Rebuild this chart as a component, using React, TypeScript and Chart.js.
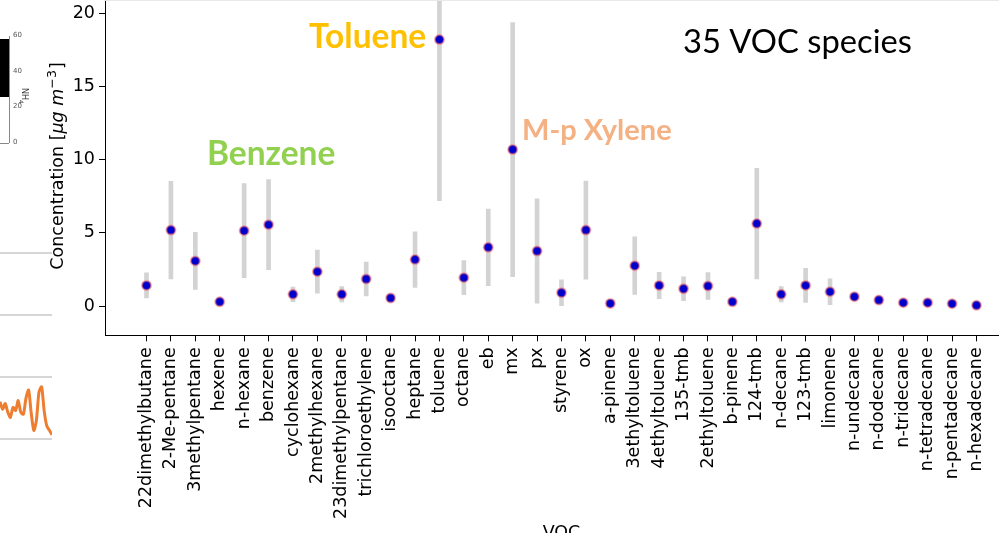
import React, { useEffect, useRef } from "react";
import { Chart, registerables } from "chart.js";

Chart.register(...registerables);

// ---- data ----
const VOCS = [
  "22dimethylbutane", "2-Me-pentane", "3methylpentane", "hexene", "n-hexane", "benzene",
  "cyclohexane", "2methylhexane", "23dimethylpentane", "trichloroethylene", "isooctane", "heptane",
  "toluene", "octane", "eb", "mx", "px", "styrene", "ox", "a-pinene", "3ethyltoluene",
  "4ethyltoluene", "135-tmb", "2ethyltoluene", "b-pinene", "124-tmb", "n-decane", "123-tmb",
  "limonene", "n-undecane", "n-dodecane", "n-tridecane", "n-tetradecane", "n-pentadecane",
  "n-hexadecane",
];
const MEANS = [
  1.41, 5.19, 3.08, 0.29, 5.15, 5.56, 0.8, 2.35, 0.8, 1.85, 0.55, 3.17,
  18.2, 1.94, 4.01, 10.69, 3.76, 0.91, 5.19, 0.18, 2.76, 1.41, 1.18, 1.37,
  0.29, 5.63, 0.8, 1.41, 0.98, 0.64, 0.41, 0.23, 0.23, 0.16, 0.05,
];
const STDS = [
  0.86, 3.33, 1.95, 0.2, 3.21, 3.07, 0.5, 1.47, 0.52, 1.16, 0.2, 1.9,
  11.0, 1.17, 2.62, 8.68, 3.56, 0.88, 3.35, 0.15, 1.96, 0.9, 0.82, 0.92,
  0.2, 3.78, 0.52, 1.17, 0.88, 0.25, 0.2, 0.15, 0.15, 0.12, 0.1,
];
const Y_TICKS = [0, 5, 10, 15, 20];
const X_TITLE = "VOC";
const ANNOTATIONS = ["Toluene", "Benzene", "M-p Xylene", "35 VOC species"];

// sliver of a neighbouring figure at the left edge
const SIDE_SERIES = [
  0.6, 0.48, 0.57, 0.43, 0.35, 0.51, 0.46, 0.62, 0.43, 0.4, 0.66,
  0.79, 0.42, 0.14, 0.3, 0.76, 0.84, 0.45, 0.21, 0.14, 0.07,
];
const SIDE_GRID = [0, 1, 2, 3];
const SIDE_TICKS = ["60", "40", "20", "0"];

// ---- layout constants ----
const CW = 1060;
const CH = 640;
const OFF_Y = 60; // canvas is shifted up by this much
const TICK_FONT = { family: "DejaVu Sans", size: 17.5 };

const overlayPlugin = {
  id: "overlay",
  afterDraw(chart: any) {
    const ctx = chart.ctx as CanvasRenderingContext2D;
    ctx.save();
    // y-axis title with math part
    const fs = 17.5;
    const parts = [
      { t: "Concentration [", f: `${fs}px "DejaVu Sans"`, dy: 0 },
      { t: "\u03bcg m", f: `italic ${fs}px "DejaVu Sans"`, dy: 0 },
      { t: "\u22123", f: `${fs * 0.72}px "DejaVu Sans"`, dy: -7 },
      { t: "]", f: `${fs}px "DejaVu Sans"`, dy: 0 },
    ];
    let total = 0;
    for (const p of parts) {
      ctx.font = p.f;
      total += ctx.measureText(p.t).width + (p.dy ? 1 : 0);
    }
    ctx.translate(57, 166 + OFF_Y);
    ctx.rotate(-Math.PI / 2);
    ctx.fillStyle = "#000";
    ctx.textBaseline = "alphabetic";
    ctx.textAlign = "left";
    let px = -total / 2;
    for (const p of parts) {
      ctx.font = p.f;
      ctx.fillText(p.t, px, 6 + p.dy);
      px += ctx.measureText(p.t).width + (p.dy ? 1 : 0);
    }
    ctx.restore();

    ctx.save();
    // x-axis title
    const area = chart.chartArea;
    ctx.font = `${fs}px "DejaVu Sans"`;
    ctx.fillStyle = "#000";
    ctx.textAlign = "center";
    ctx.textBaseline = "alphabetic";
    ctx.fillText(X_TITLE, (area.left + area.right) / 2, 538 + OFF_Y);

    // slide annotations
    const styles = [
      { c: "#FFC000", w: "bold", s: 33.5, x: 309, y: 47.7, mw: 121 },
      { c: "#92D050", w: "bold", s: 33.5, x: 207, y: 165, mw: 130 },
      { c: "#F4B183", w: "bold", s: 29, x: 522, y: 140, mw: 150 },
      { c: "#000000", w: "normal", s: 33.5, x: 683, y: 53.3, mw: 229 },
    ];
    ctx.textAlign = "left";
    ANNOTATIONS.forEach((t, i) => {
      const st = styles[i];
      ctx.font = `${st.w} ${st.s}px Lato`;
      ctx.fillStyle = st.c;
      ctx.fillText(t, st.x, st.y + OFF_Y, st.mw);
    });
    ctx.restore();
  },
};

function MainChart() {
  const ref = useRef<HTMLCanvasElement>(null);
  useEffect(() => {
    if (!ref.current) return;
    const chart = new Chart(ref.current, {
      type: "bar",
      data: {
        datasets: [
          {
            type: "scatter",
            data: MEANS.map((m, i) => ({ x: i, y: m })),
            backgroundColor: "#0000cd",
            borderColor: "rgba(240,110,110,0.55)",
            borderWidth: 2,
            pointRadius: 4.5,
            order: 1,
          } as any,
          {
            type: "bar",
            data: MEANS.map((m, i) => ({ x: i, y: [m - STDS[i], m + STDS[i]] })),
            backgroundColor: "#d3d3d3",
            barThickness: 4,
            order: 2,
          } as any,
        ],
      },
      options: {
        animation: false,
        responsive: false,
        maintainAspectRatio: false,
        layout: { padding: { top: 44, right: 42, left: 0, bottom: 0 } },
        plugins: { legend: { display: false }, tooltip: { enabled: false } },
        scales: {
          x: {
            type: "linear",
            min: -1.7,
            max: 35.7,
            offset: false,
            afterBuildTicks: (s: any) => {
              s.ticks = VOCS.map((_, i) => ({ value: i }));
            },
            afterFit: (s: any) => {
              s.height = CH - 395.3;
            },
            ticks: {
              autoSkip: false,
              minRotation: 90,
              maxRotation: 90,
              padding: 6,
              color: "#000",
              font: TICK_FONT,
              callback: (v: any) => VOCS[v] ?? "",
            },
            grid: {
              display: true,
              offset: false,
              drawOnChartArea: false,
              drawTicks: true,
              tickLength: 6,
              tickColor: "#000",
              tickWidth: 1,
            },
            border: { display: true, color: "#000", width: 1 },
          },
          y: {
            type: "linear",
            min: -2,
            max: 22,
            afterBuildTicks: (s: any) => {
              s.ticks = Y_TICKS.map((v) => ({ value: v }));
            },
            afterFit: (s: any) => {
              s.width = 105;
            },
            ticks: {
              padding: 4,
              color: "#000",
              font: TICK_FONT,
              callback: (v: any) => String(v),
            },
            grid: {
              display: true,
              offset: false,
              drawOnChartArea: false,
              drawTicks: true,
              tickLength: 6,
              tickColor: "#000",
              tickWidth: 1,
            },
            border: { display: true, color: "#000", width: 1 },
          },
        },
      } as any,
      plugins: [overlayPlugin],
    });
    return () => chart.destroy();
  }, []);
  return (
    <canvas
      ref={ref}
      width={CW}
      height={CH}
      style={{ position: "absolute", left: 0, top: -OFF_Y, width: CW, height: CH }}
    />
  );
}

function SideChart() {
  const ref = useRef<HTMLCanvasElement>(null);
  useEffect(() => {
    if (!ref.current) return;
    const chart = new Chart(ref.current, {
      type: "line",
      data: {
        labels: SIDE_SERIES.map((_, i) => i),
        datasets: [
          {
            data: SIDE_SERIES,
            borderColor: "#ED7D31",
            borderWidth: 3,
            pointRadius: 0,
            tension: 0.25,
          },
        ],
      },
      options: {
        animation: false,
        responsive: false,
        layout: { padding: { top: 1, bottom: 1, left: 0, right: 0 } },
        plugins: { legend: { display: false }, tooltip: { enabled: false } },
        scales: {
          x: { display: false, offset: false },
          y: {
            min: 0,
            max: 3,
            afterBuildTicks: (s: any) => {
              s.ticks = SIDE_GRID.map((v) => ({ value: v }));
            },
            afterFit: (s: any) => {
              s.width = 0;
            },
            ticks: { display: false },
            grid: { color: "#d6d6d6", lineWidth: 2, drawTicks: false },
            border: { display: false },
          },
        },
      } as any,
    });
    return () => chart.destroy();
  }, []);
  return (
    <canvas
      ref={ref}
      width={52}
      height={188}
      style={{ position: "absolute", left: 0, top: 252, width: 52, height: 188 }}
    />
  );
}

export default function App() {
  useEffect(() => {
    document.body.style.margin = "0";
    document.body.style.overflow = "hidden";
  }, []);
  return (
    <div
      style={{
        position: "fixed",
        left: 0,
        top: 0,
        width: 999,
        height: 533,
        overflow: "hidden",
        background: "#fff",
      }}
    >
      <MainChart />
      <SideChart />
      <div style={{ position: "absolute", left: 104, top: 0, width: 895, height: 1, background: "#e8e8e8" }} />
      <div style={{ position: "absolute", left: 0, top: 39, width: 10, height: 58, background: "#000" }} />
      <div style={{ position: "absolute", left: 9, top: 36, width: 1, height: 107, background: "#888" }} />
      <div style={{ position: "absolute", left: 0, top: 143, width: 9, height: 1, background: "#888" }} />
      {SIDE_TICKS.map((t, i) => (
        <div
          key={t}
          style={{
            position: "absolute",
            left: 13,
            top: 31 + i * 35.5,
            font: "7px 'DejaVu Sans'",
            color: "#555",
          }}
        >
          {t}
        </div>
      ))}
      <div
        style={{
          position: "absolute",
          left: 19,
          top: 88,
          transform: "rotate(90deg)",
          transformOrigin: "left top",
          font: "8px 'DejaVu Sans'",
          color: "#333",
          whiteSpace: "nowrap",
          marginLeft: 10,
        }}
      >
        NH<sub style={{ fontSize: 6 }}>4</sub>
      </div>
    </div>
  );
}
